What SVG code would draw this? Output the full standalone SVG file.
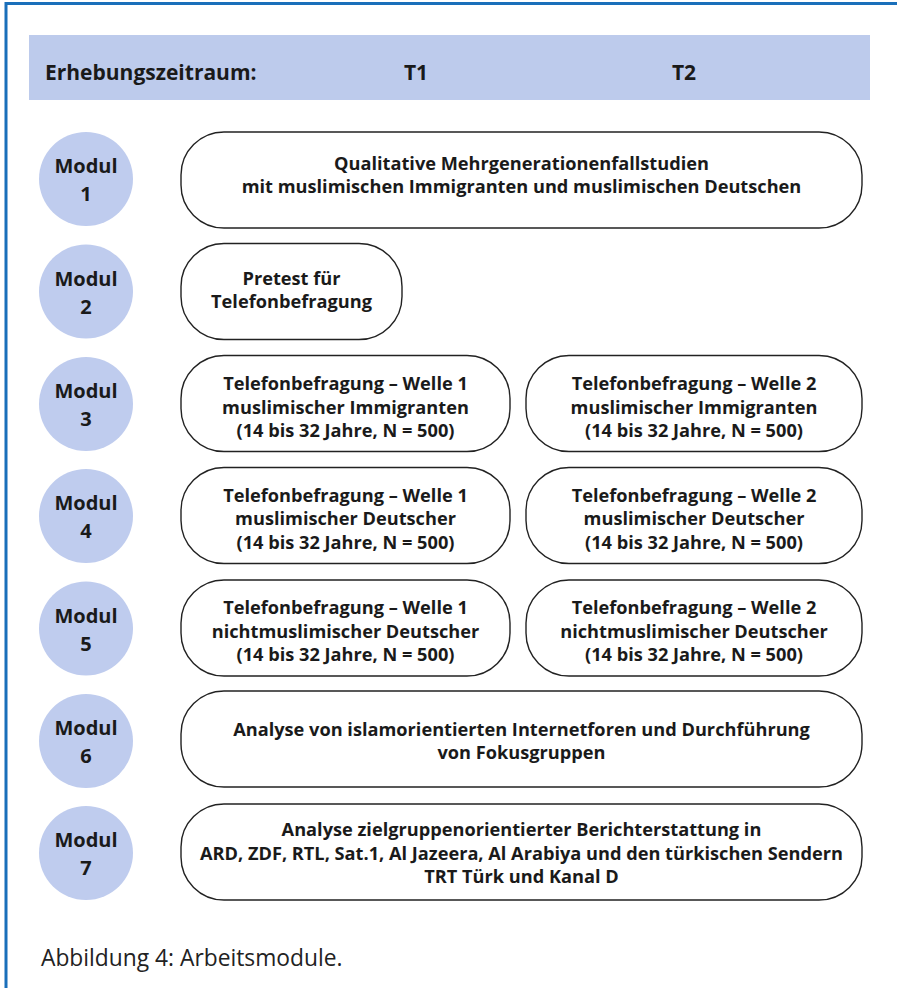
<svg xmlns="http://www.w3.org/2000/svg" width="897" height="988" viewBox="0 0 897 988">
<style>
.frame{stroke:#1a6fba;stroke-width:3;fill:none}
.hdr{fill:#bdcbec}
.circ{fill:#bfccee}
.box{fill:#fff;stroke:#222;stroke-width:1.4}
.t{font-family:"Open Sans","Noto Sans","DejaVu Sans",sans-serif;font-weight:700;fill:#1a1a1a}
.h{font-size:21px}
.m{font-size:20px;text-anchor:middle}
.b{font-size:18.2px;text-anchor:middle}
.cap{font-family:"Open Sans","Noto Sans","DejaVu Sans",sans-serif;font-size:22.8px;fill:#222}
</style>
<rect width="897" height="988" fill="#fff"/>
<path class="frame" d="M6,988 V3.5 H897"/>
<g id="header">
<rect class="hdr" x="29" y="35" width="841" height="65"/>
<text class="t h" x="45" y="80">Erhebungszeitraum:</text>
<text class="t h" x="416" y="80" text-anchor="middle">T1</text>
<text class="t h" x="684" y="80" text-anchor="middle">T2</text>
</g>
<g id="modul1">
<circle class="circ" cx="86" cy="179" r="47"/>
<text class="t m" x="86" y="173">Modul</text><text class="t m" x="86" y="201">1</text>
</g>
<g id="modul2">
<circle class="circ" cx="86" cy="291.5" r="47"/>
<text class="t m" x="86" y="285.5">Modul</text><text class="t m" x="86" y="313.5">2</text>
</g>
<g id="modul3">
<circle class="circ" cx="86" cy="404" r="47"/>
<text class="t m" x="86" y="398">Modul</text><text class="t m" x="86" y="426">3</text>
</g>
<g id="modul4">
<circle class="circ" cx="86" cy="516" r="47"/>
<text class="t m" x="86" y="510">Modul</text><text class="t m" x="86" y="538">4</text>
</g>
<g id="modul5">
<circle class="circ" cx="86" cy="628.5" r="47"/>
<text class="t m" x="86" y="622.5">Modul</text><text class="t m" x="86" y="650.5">5</text>
</g>
<g id="modul6">
<circle class="circ" cx="86" cy="741" r="47"/>
<text class="t m" x="86" y="735">Modul</text><text class="t m" x="86" y="763">6</text>
</g>
<g id="modul7">
<circle class="circ" cx="86" cy="853" r="47"/>
<text class="t m" x="86" y="847">Modul</text><text class="t m" x="86" y="875">7</text>
</g>
<g id="box1">
<rect class="box" x="181" y="132" width="681" height="96" rx="43" ry="43"/>
<text class="t b" x="521.5" y="170">Qualitative Mehrgenerationenfallstudien</text>
<text class="t b" x="521.5" y="193">mit muslimischen Immigranten und muslimischen Deutschen</text>
</g>
<g id="box2">
<rect class="box" x="181" y="243.5" width="221" height="96" rx="43" ry="43"/>
<text class="t b" x="291.5" y="285">Pretest für</text>
<text class="t b" x="291.5" y="308">Telefonbefragung</text>
</g>
<g id="box3a">
<rect class="box" x="181" y="355.5" width="329" height="96" rx="43" ry="43"/>
<text class="t b" x="345.5" y="390">Telefonbefragung – Welle 1</text>
<text class="t b" x="345.5" y="413.5">muslimischer Immigranten</text>
<text class="t b" x="345.5" y="437">(14 bis 32 Jahre, N = 500)</text>
</g>
<g id="box3b">
<rect class="box" x="526" y="355.5" width="336" height="96" rx="43" ry="43"/>
<text class="t b" x="694" y="390">Telefonbefragung – Welle 2</text>
<text class="t b" x="694" y="413.5">muslimischer Immigranten</text>
<text class="t b" x="694" y="437">(14 bis 32 Jahre, N = 500)</text>
</g>
<g id="box4a">
<rect class="box" x="181" y="467.5" width="329" height="96" rx="43" ry="43"/>
<text class="t b" x="345.5" y="501.5">Telefonbefragung – Welle 1</text>
<text class="t b" x="345.5" y="525">muslimischer Deutscher</text>
<text class="t b" x="345.5" y="548.5">(14 bis 32 Jahre, N = 500)</text>
</g>
<g id="box4b">
<rect class="box" x="526" y="467.5" width="336" height="96" rx="43" ry="43"/>
<text class="t b" x="694" y="501.5">Telefonbefragung – Welle 2</text>
<text class="t b" x="694" y="525">muslimischer Deutscher</text>
<text class="t b" x="694" y="548.5">(14 bis 32 Jahre, N = 500)</text>
</g>
<g id="box5a">
<rect class="box" x="181" y="580" width="329" height="96" rx="43" ry="43"/>
<text class="t b" x="345.5" y="614">Telefonbefragung – Welle 1</text>
<text class="t b" x="345.5" y="637.5">nichtmuslimischer Deutscher</text>
<text class="t b" x="345.5" y="661">(14 bis 32 Jahre, N = 500)</text>
</g>
<g id="box5b">
<rect class="box" x="526" y="580" width="336" height="96" rx="43" ry="43"/>
<text class="t b" x="694" y="614">Telefonbefragung – Welle 2</text>
<text class="t b" x="694" y="637.5">nichtmuslimischer Deutscher</text>
<text class="t b" x="694" y="661">(14 bis 32 Jahre, N = 500)</text>
</g>
<g id="box6">
<rect class="box" x="181" y="691" width="681" height="96" rx="43" ry="43"/>
<text class="t b" x="521.5" y="736">Analyse von islamorientierten Internetforen und Durchführung</text>
<text class="t b" x="521.5" y="759">von Fokusgruppen</text>
</g>
<g id="box7">
<rect class="box" x="181" y="804" width="681" height="96" rx="43" ry="43"/>
<text class="t b" x="521.5" y="836">Analyse zielgruppenorientierter Berichterstattung in</text>
<text class="t b" x="521.5" y="859.5">ARD, ZDF, RTL, Sat.1, Al Jazeera, Al Arabiya und den türkischen Sendern</text>
<text class="t b" x="521.5" y="883">TRT Türk und Kanal D</text>
</g>
<g id="connectors"></g>
<text class="cap" x="41" y="966">Abbildung 4: Arbeitsmodule.</text>
</svg>
